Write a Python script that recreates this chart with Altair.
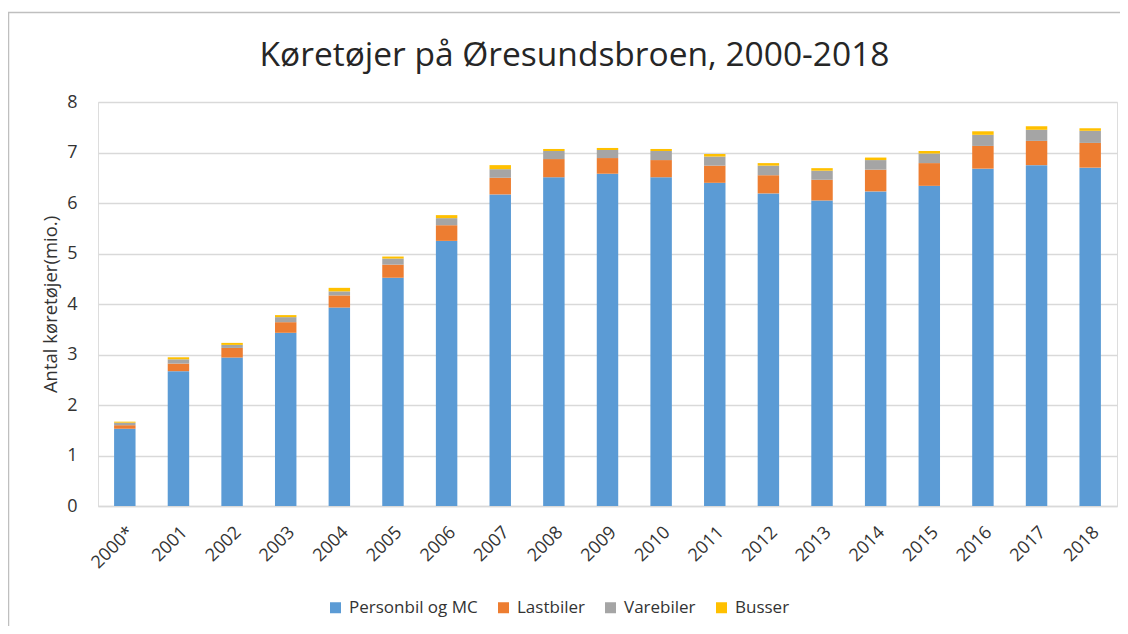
import altair as alt
import pandas as pd

years = ["2000*", "2001", "2002", "2003", "2004", "2005", "2006", "2007", "2008", "2009",
         "2010", "2011", "2012", "2013", "2014", "2015", "2016", "2017", "2018"]
personbil = [1.53, 2.67, 2.94, 3.43, 3.93, 4.52, 5.25, 6.17, 6.51, 6.58,
             6.51, 6.40, 6.19, 6.05, 6.23, 6.34, 6.68, 6.75, 6.70]
lastbiler = [0.07, 0.15, 0.19, 0.21, 0.24, 0.26, 0.31, 0.33, 0.36, 0.31,
             0.34, 0.34, 0.36, 0.41, 0.43, 0.45, 0.45, 0.48, 0.49]
varebiler = [0.05, 0.085, 0.06, 0.10, 0.08, 0.12, 0.14, 0.17, 0.16, 0.16,
             0.18, 0.18, 0.19, 0.18, 0.19, 0.19, 0.22, 0.22, 0.24]
busser = [0.02, 0.04, 0.04, 0.04, 0.07, 0.04, 0.06, 0.08, 0.04, 0.04,
          0.04, 0.05, 0.05, 0.05, 0.05, 0.05, 0.07, 0.07, 0.05]

series_names = ["Personbil og MC", "Lastbiler", "Varebiler", "Busser"]
series_values = [personbil, lastbiler, varebiler, busser]
series_colors = ["#5B9BD5", "#ED7D31", "#A5A5A5", "#FFC000"]

rows = []
for k, (name, vals) in enumerate(zip(series_names, series_values)):
    for y, v in zip(years, vals):
        rows.append({"year": y, "type": name, "value": v, "order": k})
df = pd.DataFrame(rows)

W, H = 1019, 404
FONT = "Open Sans"
TXT = "#333333"

bars = alt.Chart(df).mark_bar().encode(
    x=alt.X("year:N", sort=years,
            scale=alt.Scale(paddingInner=0.6, paddingOuter=0.3),
            axis=alt.Axis(title=None, labelAngle=-45, labelAlign="right",
                          labelBaseline="top", labelPadding=17,
                          ticks=False, tickSize=0, grid=False,
                          domainColor="#d9d9d9", domainWidth=1.5,
                          labelFont=FONT, labelFontSize=18, labelColor=TXT)),
    y=alt.Y("value:Q", stack="zero",
            scale=alt.Scale(domain=[0, 8], nice=False),
            axis=alt.Axis(title="Antal køretøjer(mio.)", values=list(range(0, 9)),
                          format="d", domain=False, ticks=False, tickSize=0,
                          labelPadding=21, grid=True, gridColor="#d9d9d9",
                          gridWidth=1.5, labelFont=FONT, labelFontSize=18,
                          labelColor=TXT, titleFont=FONT, titleFontSize=18.5,
                          titleFontWeight="normal", titleColor=TXT,
                          titleAngle=-90, titleX=-48, titleY=H / 2,
                          titleAlign="center", titleBaseline="middle")),
    color=alt.Color("type:N", sort=series_names,
                    scale=alt.Scale(domain=series_names, range=series_colors),
                    legend=alt.Legend(title=None, orient="none", direction="horizontal",
                                      legendX=229, legendY=497,
                                      symbolType="square", symbolSize=121,
                                      symbolStrokeWidth=0,
                                      labelFont=FONT, labelFontSize=17,
                                      labelColor=TXT, labelOffset=5,
                                      columnPadding=17)),
    order=alt.Order("order:Q", sort="ascending"),
)

border = alt.Chart(alt.Data(values=[{"b": 1}])).mark_rect(
    filled=False, stroke="#bfbfbf", strokeWidth=1.5
).encode(
    x=alt.value(-89.5), x2=alt.value(W + 60),
    y=alt.value(-89.5), y2=alt.value(H + 250),
)

chart = alt.layer(border, bars).properties(
    width=W, height=H,
    title=alt.TitleParams("Køretøjer på Øresundsbroen, 2000-2018",
                          font=FONT, fontSize=33.5, fontWeight="normal",
                          color="#262626", anchor="middle", frame="group",
                          dx=-33, offset=-62),
    padding={"left": 90, "top": 94, "right": 3, "bottom": 120},
    autosize=alt.AutoSizeParams(type="none"),
).configure_view(stroke=None).configure(background="white")

chart.save("out.html", embed_options={"renderer": "svg", "actions": False})
